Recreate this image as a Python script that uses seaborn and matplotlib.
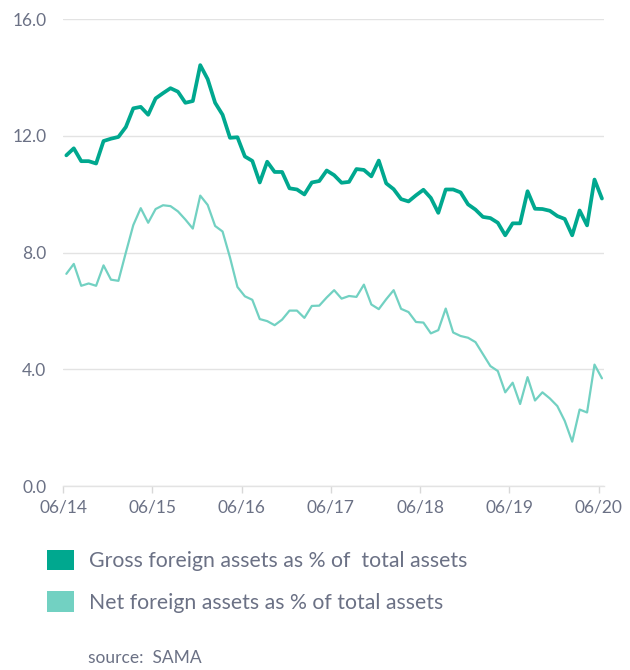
import numpy as np
import pandas as pd
import matplotlib
matplotlib.use("Agg")
import matplotlib.pyplot as plt
from matplotlib.patches import Patch
import seaborn as sns

# ---- data (monthly, 06/2014 .. 06/2020) ----
gross = [11.33, 11.57, 11.13, 11.13, 11.05, 11.82, 11.90, 11.96, 12.30, 12.94,
         12.99, 12.72, 13.28, 13.46, 13.63, 13.51, 13.13, 13.19, 14.42, 13.94,
         13.13, 12.72, 11.93, 11.95, 11.29, 11.14, 10.40, 11.11, 10.76, 10.76,
         10.20, 10.16, 9.99, 10.40, 10.45, 10.81, 10.65, 10.39, 10.42, 10.86,
         10.83, 10.61, 11.15, 10.37, 10.17, 9.83, 9.75, 9.96, 10.15, 9.87,
         9.36, 10.16, 10.16, 10.06, 9.65, 9.47, 9.22, 9.18, 9.02, 8.59,
         9.00, 9.00, 10.10, 9.50, 9.49, 9.43, 9.25, 9.15, 8.59, 9.44,
         8.93, 10.50, 9.85]
net = [7.27, 7.61, 6.86, 6.94, 6.86, 7.56, 7.07, 7.03, 8.00, 8.94,
       9.52, 9.02, 9.49, 9.62, 9.59, 9.41, 9.13, 8.82, 9.95, 9.63,
       8.91, 8.72, 7.83, 6.82, 6.50, 6.38, 5.72, 5.65, 5.51, 5.70,
       6.01, 6.01, 5.76, 6.17, 6.18, 6.46, 6.71, 6.42, 6.51, 6.48,
       6.90, 6.22, 6.06, 6.40, 6.71, 6.07, 5.96, 5.62, 5.60, 5.23,
       5.34, 6.08, 5.26, 5.14, 5.08, 4.93, 4.52, 4.11, 3.94, 3.21,
       3.54, 2.81, 3.73, 2.93, 3.21, 3.00, 2.74, 2.23, 1.52, 2.62,
       2.52, 4.16, 3.69]
tick_labels = ["06/14", "06/15", "06/16", "06/17", "06/18", "06/19", "06/20"]
series_names = ["Gross foreign assets as % of  total assets",
                "Net foreign assets as % of total assets"]
source_text = "source:  SAMA"

# ---- styling ----
GROSS_C = "#00A88F"
NET_C = "#72D1C2"
TEXT_C = "#6B7185"
GRID_C = "#E3E3E3"

sns.set_theme(style="white")
plt.rcParams["font.family"] = ["Lato", "DejaVu Sans"]

months = np.arange(len(gross))
df = pd.DataFrame({
    "month": np.concatenate([months, months]),
    "value": gross + net,
    "series": [series_names[0]] * len(gross) + [series_names[1]] * len(net),
})

fig = plt.figure(figsize=(6.3, 6.7), dpi=100)
ax = fig.add_axes([0.100, 0.2746, 0.859, 0.697])

sns.lineplot(data=df, x="month", y="value", hue="series", size="series",
             palette={series_names[0]: GROSS_C, series_names[1]: NET_C},
             sizes={series_names[0]: 2.7, series_names[1]: 1.6},
             legend=False, ax=ax)

ax.set_ylim(0, 16)
ax.set_xlim(-0.45, 72.3)
ax.set_yticks([0, 4, 8, 12, 16])
ax.set_yticklabels(["0.0", "4.0", "8.0", "12.0", "16.0"])
ax.set_xticks([12 * k - 0.45 for k in range(len(tick_labels))])
ax.set_xticklabels(tick_labels)
ax.set_xlabel("")
ax.set_ylabel("")

ax.grid(axis="y", color=GRID_C, linewidth=1.0)
ax.set_axisbelow(True)
for s in ["top", "right", "left"]:
    ax.spines[s].set_visible(False)
ax.spines["bottom"].set_color(GRID_C)
ax.spines["bottom"].set_linewidth(1.0)
ax.tick_params(axis="x", colors=TEXT_C, labelsize=12.5, length=5, width=1,
               color="#D8D8D8", pad=5, direction="out", bottom=True)
ax.tick_params(axis="y", colors=TEXT_C, labelsize=12.5, length=0, pad=12)
ax.set_facecolor("white")

handles = [Patch(facecolor=GROSS_C, edgecolor="none"),
           Patch(facecolor=NET_C, edgecolor="none")]
leg = fig.legend(handles, series_names, loc="upper left",
                 bbox_to_anchor=(0.045, 0.208), frameon=False,
                 fontsize=15.3, handlelength=1.25, handleheight=1.1,
                 handletextpad=0.7, labelspacing=0.95, labelcolor=TEXT_C)

fig.text(0.14, 0.01, source_text, color=TEXT_C, fontsize=12.5)

fig.savefig("out.png", dpi=100, facecolor="white")
